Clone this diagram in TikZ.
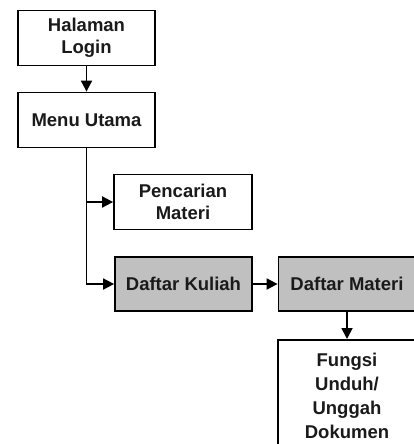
\documentclass[tikz,border=0pt]{standalone}
\usepackage{fontspec}
\setmainfont{Liberation Sans}
\usetikzlibrary{arrows.meta,positioning}
\definecolor{boxgray}{HTML}{C0C0C0}
\definecolor{txt}{HTML}{1A1A1A}
\tikzset{
  box/.style={draw=black, line width=1.8pt, fill=white, minimum width=137pt, minimum height=55pt,
    inner sep=0pt, align=center, font=\fontsize{18.5}{22}\selectfont\bfseries, text=txt},
  graybox/.style={box, fill=boxgray},
  conn/.style={line width=1.8pt, -{Triangle[length=11pt,width=11pt]}}
}
\begin{document}
\begin{tikzpicture}[x=1pt,y=-1pt]
\clip (0,0) rectangle (414,444);
\fill[white] (0,0) rectangle (414,444);
\node[box] (login) at (86.5,38) {Halaman\\Login};
\node[box] (menu) at (86.5,120) {Menu Utama};
\node[box, minimum width=138pt] (cari) at (183,202) {Pencarian\\Materi};
\node[graybox, minimum height=54pt] (kuliah) at (183.5,284) {Daftar Kuliah};
\node[graybox, minimum height=54pt] (materi) at (347,284) {Daftar Materi};
\node[box, minimum width=138pt, minimum height=112pt, anchor=north, font=\fontsize{18.5}{24}\selectfont\bfseries] (fungsi) at (347,339) {Fungsi\\Unduh/\\Unggah\\Dokumen};
\draw[conn] (login.south) -- (menu.north);
\draw[conn] (menu.south) |- (cari.west);
\draw[conn] (menu.south) |- (kuliah.west);
\draw[conn] (kuliah.east) -- (materi.west);
\draw[conn] (materi.south) -- (fungsi.north);
\end{tikzpicture}
\end{document}
